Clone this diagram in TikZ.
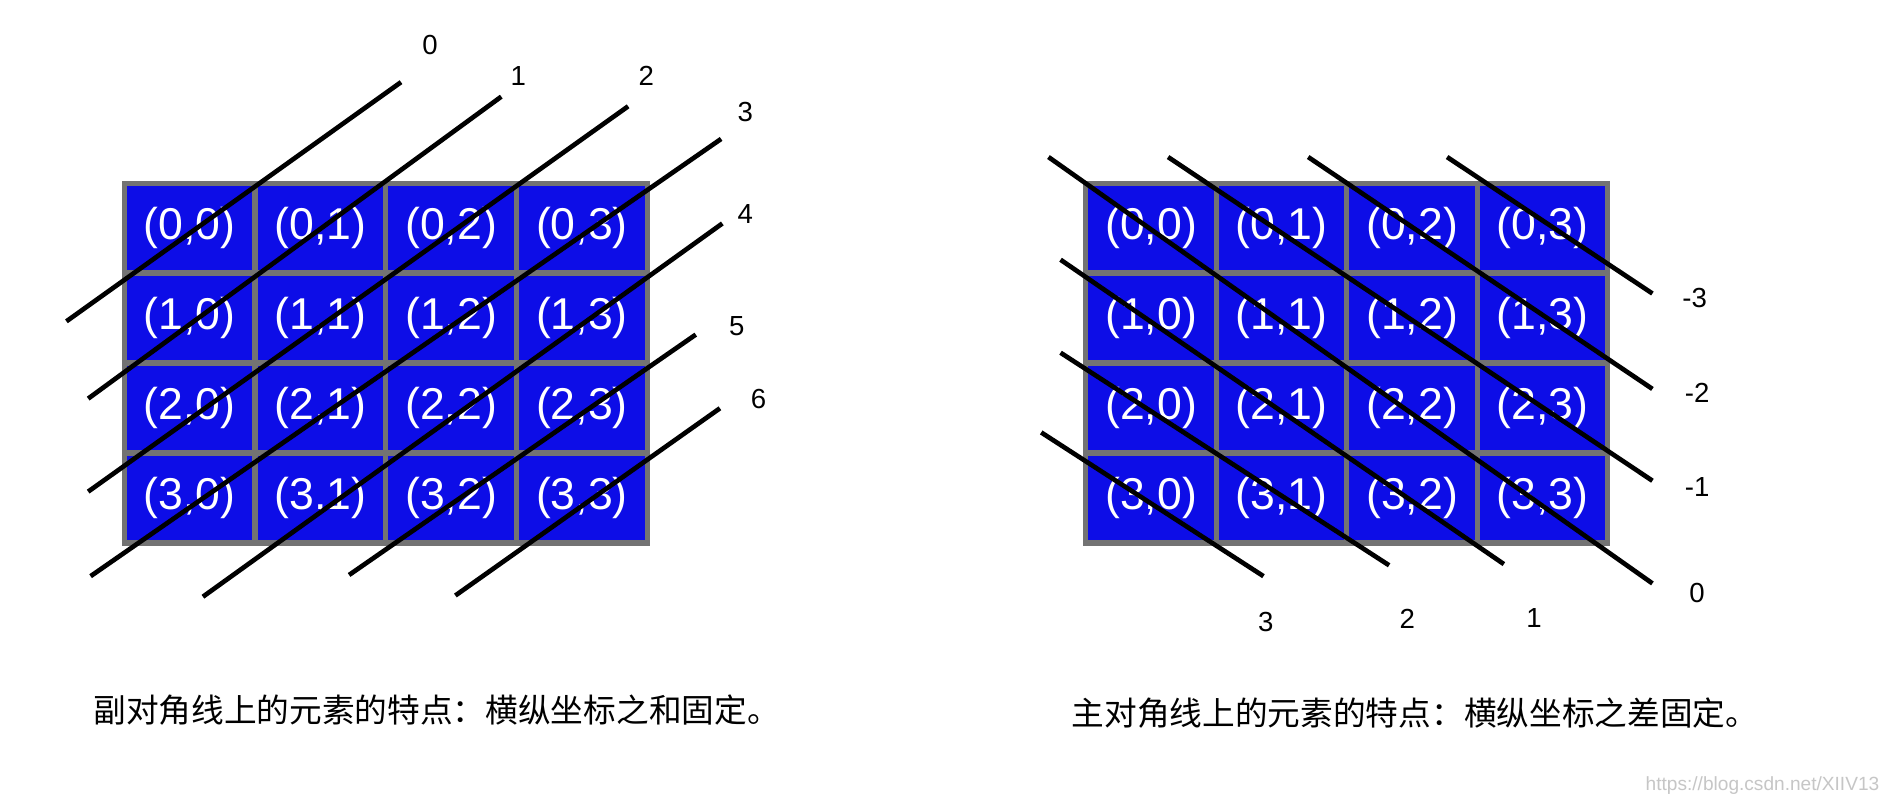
\documentclass[tikz,border=0pt]{standalone}
\usepackage{fontspec}
\setmainfont{Liberation Sans}
\newfontfamily\cjk{Noto Sans CJK SC}
\begin{document}
\begin{tikzpicture}[x=0.02cm,y=-0.02cm,
  cell/.style={draw=gray!90!black,line width=2.4pt,fill=blue!90!black!95,text=white,
    minimum width=108*0.02cm,minimum height=74*0.02cm,inner sep=0pt,font=\fontsize{21}{21}\selectfont},
  diag/.style={line width=2.2pt,black},
  lab/.style={font=\fontsize{13}{13}\selectfont},
  captext/.style={font=\cjk\fontsize{15.4}{17}\selectfont,inner sep=0pt}]
\useasboundingbox (0,0) rectangle (1568,667);
\fill[white] (0,0) rectangle (1568,667);
\foreach \r in {0,...,3}{\foreach \c in {0,...,3}{
  \node[cell] (L\r\c) at ({103+54+\c*108.25},{152+37+\r*74.5}) {(\r,\c)};
  \node[cell] (R\r\c) at ({899+54+\c*108},{152+37+\r*74.5}) {(\r,\c)};
}}
% anti-diagonals
\foreach \n/\ax/\ay/\bx/\by/\lx/\ly in {0/55/266/332/68/356/37, 1/73/330/415/80/429/63, 2/73/407/520/88/535/63,
  3/75/477/597/115/617/93, 4/168/494/598/185/617/177, 5/289/476/576/277/610/270, 6/377/493/596/338/628/330}{
  \coordinate (la\n) at (\ax,\ay); \coordinate (lb\n) at (\bx,\by);
  \draw[diag] (la\n) -- (lb\n);
  \node[lab] (ll\n) at (\lx,\ly) {\n};
}
% main diagonals
\foreach \k/\n/\ax/\ay/\bx/\by/\lx/\ly in {a/-3/1198/130/1368/243/1403/247, b/-2/1083/130/1368/322/1405/325,
  c/-1/967/130/1368/398/1405/403, d/0/868/130/1368/483/1405/491, e/1/878/215/1245/467/1270/512,
  f/2/878/292/1150/468/1165/512, g/3/862/358/1046/477/1048/515}{
  \coordinate (ra\k) at (\ax,\ay); \coordinate (rb\k) at (\bx,\by);
  \draw[diag] (ra\k) -- (rb\k);
  \node[lab] (rl\k) at (\lx,\ly) {\n};
}
\node[captext,anchor=west] (capL) at (77,588) {副对角线上的元素的特点：横纵坐标之和固定。};
\node[captext,anchor=west] (capR) at (887,590) {主对角线上的元素的特点：横纵坐标之差固定。};
\node[anchor=east,text=gray!45,font=\fontsize{9}{9}\selectfont] (wm) at (1562,650) {https://blog.csdn.net/XIIV13};
\end{tikzpicture}
\end{document}
